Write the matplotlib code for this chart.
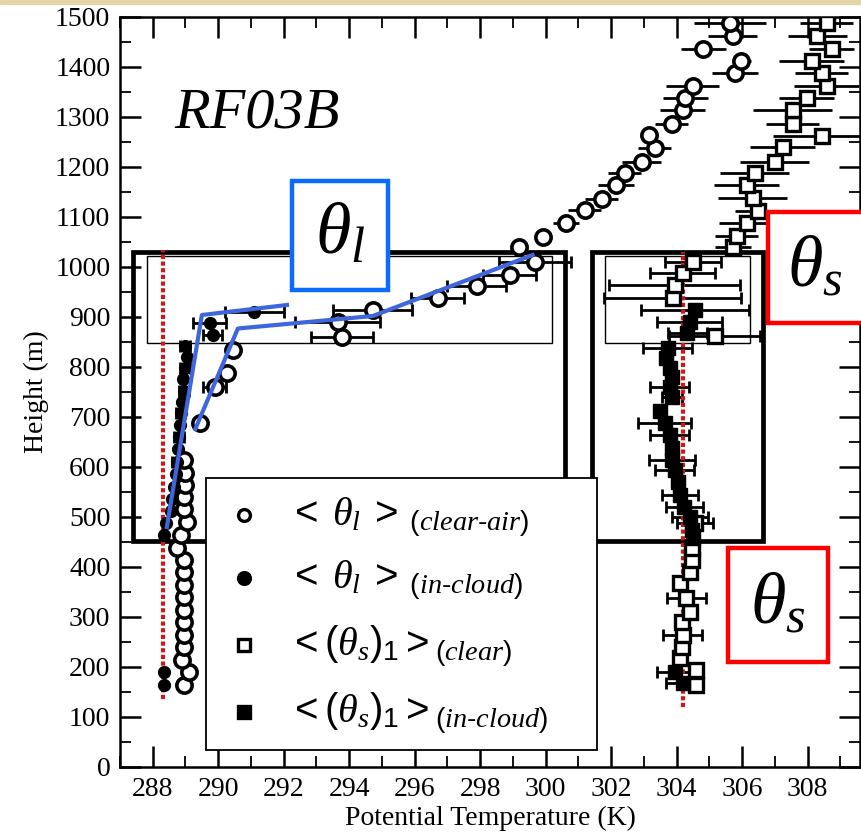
import matplotlib
matplotlib.use("Agg")
import matplotlib.pyplot as plt
from matplotlib.patches import Rectangle
import numpy as np

plt.rcParams['font.family'] = 'Liberation Serif'
plt.rcParams['mathtext.fontset'] = 'custom'
plt.rcParams['mathtext.rm'] = 'Liberation Sans'
plt.rcParams['mathtext.it'] = 'Liberation Serif:italic'
plt.rcParams['mathtext.bf'] = 'Liberation Sans:bold'

# <theta_l> clear-air (open circles)
h_cl = [164, 190, 214, 240, 264, 290, 314, 340, 364, 390, 414, 438, 464, 490, 516,
        540, 564, 588, 614, 688, 760, 788, 834, 860, 890, 914, 938, 962, 984, 1010,
        1040, 1060, 1088, 1114, 1136, 1164, 1188, 1210, 1238, 1264, 1286, 1314, 1338,
        1362, 1388, 1412, 1436, 1462, 1488]
t_cl = [288.95, 289.1, 288.9, 288.95, 288.95, 288.95, 288.95, 288.95, 288.95, 288.95,
        288.95, 288.75, 288.85, 289.05, 288.95, 288.95, 288.98, 288.98, 288.95, 289.44,
        289.89, 290.26, 290.44, 293.77, 293.65, 294.72, 296.7, 297.9, 298.9, 299.66,
        299.2, 299.91, 300.61, 301.19, 301.71, 302.14, 302.41, 302.93, 303.33, 303.15,
        303.85, 304.18, 304.27, 304.49, 305.77, 305.98, 304.82, 305.71, 305.62]
e_cl = [0, 0, 0, 0, 0, 0, 0, 0, 0, 0, 0, 0, 0, 0, 0, 0, 0, 0, 0, 0,
        0.35, 0, 0, 0.95, 1.3, 1.2, 0.8, 0.9, 0.8, 1.1,
        0, 0, 0.4, 0.5, 0.5, 0.55, 0.5, 0.6, 0.5, 0,
        0.5, 0.7, 0.7, 0.8, 0.7, 0.3, 0.7, 0.75, 1.1]

# <theta_l> in-cloud (filled circles)
h_ic = [164, 190, 464, 488, 512, 536, 560, 586, 610, 636, 660, 684, 708, 730, 752,
        776, 798, 820, 842, 864, 888, 910]
t_ic = [288.35, 288.35, 288.35, 288.4, 288.55, 288.6, 288.65, 288.7, 288.75, 288.78,
        288.8, 288.82, 288.85, 288.9, 288.95, 288.92, 288.98, 289.04, 288.98, 289.83,
        289.74, 291.1]
e_ic = [0, 0, 0, 0, 0, 0, 0, 0, 0.15, 0, 0.15, 0, 0.15, 0, 0.15,
        0, 0.15, 0, 0.15, 0.3, 0.5, 0.9]

# <(theta_s)_1> clear (open squares)
h_sc = [164, 194, 218, 240, 264, 290, 310, 338, 368, 390, 414, 438, 488, 862, 938,
        964, 988, 1010, 1040, 1062, 1088, 1112, 1138, 1164, 1188, 1210, 1240, 1262,
        1286, 1314, 1338, 1362, 1388, 1412, 1436, 1462, 1488]
t_sc = [304.6, 304.6, 304.1, 304.15, 304.18, 304.15, 304.4, 304.3, 304.1, 304.4,
        304.46, 304.46, 304.55, 305.16, 303.88, 303.94, 304.18, 304.49, 305.71, 305.83,
        306.14, 306.47, 306.32, 306.14, 306.38, 306.99, 307.24, 308.43, 307.54, 307.54,
        307.97, 308.58, 308.43, 308.12, 308.73, 308.3, 308.58]
e_sc = [0, 0, 0, 0, 0.6, 0, 0, 0.6, 0, 0, 0, 0, 0.55, 1.4, 2.1,
        2.0, 1.0, 0.85, 0.55, 0.65, 0.85, 0.7, 1.05, 1.0, 1.05, 1.05, 1.0, 1.5,
        0.8, 1.2, 0.85, 1.0, 0.8, 1.0, 0.7, 0.9, 0.8]

# <(theta_s)_1> in-cloud (filled squares)
h_sic = [168, 190, 458, 474, 500, 520, 544, 570, 594, 614, 638, 664, 688, 712, 740,
         760, 780, 798, 818, 838, 868, 890, 914]
t_sic = [304.18, 303.94, 304.49, 304.46, 304.4, 304.24, 304.1, 304.03, 303.94, 303.85,
         303.85, 303.79, 303.63, 303.48, 303.85, 303.79, 303.85, 303.79, 303.69, 303.73,
         304.33, 304.4, 304.55]
e_sic = [0.5, 0.55, 0, 0, 0.55, 0.55, 0.55, 0, 0.6, 0.7, 0, 0.6, 0.8, 0, 0.3,
         0.6, 0, 0, 0, 0.75, 0.6, 1.0, 1.65]

# blue fitted profiles
fit_ic_t = [288.43, 289.5, 292.1]
fit_ic_h = [480, 904, 924]
fit_cl_t = [289.3, 290.6, 294.72, 299.6]
fit_cl_h = [676, 877, 902, 1024]

# red dotted reference lines
ref_t = [288.3, 304.18]
ref_h = [(136, 1035), (120, 1030)]

legend_labels = [r'$<\;\theta_l\;>_{\;(clear\text{-}air)}$',
                 r'$<\;\theta_l\;>_{\;(in\text{-}cloud)}$',
                 r'$<(\theta_s)_1>_{(clear)}$',
                 r'$<(\theta_s)_1>_{(in\text{-}cloud)}$']

fig = plt.figure(figsize=(8.61, 8.35), dpi=100)
ax = fig.add_axes([120 / 861, 68 / 835, 740 / 861, 750 / 835])

fig.patches.append(Rectangle((0, 1 - 4 / 835), 1, 4 / 835, transform=fig.transFigure,
                             color='#e4d5a6', zorder=0))

# large analysis boxes
ax.add_patch(Rectangle((287.39, 452), 300.58 - 287.39, 1030 - 452, fill=False,
                       lw=3.4, ec='black', zorder=2))
ax.add_patch(Rectangle((287.83, 848), 300.2 - 287.83, 1022 - 848, fill=False,
                       lw=1, ec='black', zorder=2))
ax.add_patch(Rectangle((301.4, 452), 306.63 - 301.4, 1030 - 452, fill=False,
                       lw=3.4, ec='black', zorder=2))
ax.add_patch(Rectangle((301.8, 848), 306.23 - 301.8, 1022 - 848, fill=False,
                       lw=1, ec='black', zorder=2))

for x, (y0, y1) in zip(ref_t, ref_h):
    ax.plot([x, x], [y0, y1], color='#d01818', lw=3, ls=(0, (1.0, 0.6)), zorder=4)

eb = dict(fmt='none', ecolor='black', elinewidth=2, zorder=3)
h_cl, t_cl, e_cl = map(np.array, (h_cl, t_cl, e_cl))
h_sc, t_sc, e_sc = map(np.array, (h_sc, t_sc, e_sc))
low = h_cl < 1030
ax.errorbar(t_cl[low], h_cl[low], xerr=e_cl[low], capsize=4, capthick=2, **eb)
ax.errorbar(t_cl[~low], h_cl[~low], xerr=e_cl[~low], capsize=0, **eb)
low = h_sc < 1030
ax.errorbar(t_sc[low], h_sc[low], xerr=e_sc[low], capsize=4, capthick=2, **eb)
ax.errorbar(t_sc[~low], h_sc[~low], xerr=e_sc[~low], capsize=0, **eb)
ax.errorbar(t_ic, h_ic, xerr=e_ic, capsize=4, capthick=2, **eb)
ax.errorbar(t_sic, h_sic, xerr=e_sic, capsize=4, capthick=2, **eb)

ax.plot(t_cl, h_cl, 'o', ms=11, mfc='white', mec='black', mew=2.6, zorder=4)
ax.plot(t_ic, h_ic, 'o', ms=8.5, mfc='black', mec='black', zorder=4)
ax.plot(t_sc, h_sc, 's', ms=9.5, mfc='white', mec='black', mew=2.4, zorder=4)
ax.plot(t_sic, h_sic, 's', ms=9.5, mfc='black', mec='black', zorder=4)

ax.plot(fit_ic_t, fit_ic_h, color='#3f66dc', lw=3, zorder=5)
ax.plot(fit_cl_t, fit_cl_h, color='#3f66dc', lw=3, zorder=5)

# annotation boxes
ax.add_patch(Rectangle((292.24, 954), 295.18 - 292.24, 1172 - 954, fc='white',
                       ec='#0a6cff', lw=3.2, zorder=6))
ax.text(293.71, 1062, r'$\theta_l$', fontsize=52, ha='center', va='center', zorder=7)
ax.add_patch(Rectangle((306.78, 888), 4.0, 1110 - 888, fc='white', ec='#ff0000',
                       lw=3.2, zorder=6, clip_on=False))
ax.text(308.21, 996, r'$\theta_s$', fontsize=52, ha='center', va='center', zorder=7,
        clip_on=False)
ax.add_patch(Rectangle((305.56, 210), 308.61 - 305.56, 438 - 210, fc='white',
                       ec='#ff0000', lw=3.2, zorder=6))
ax.text(307.08, 322, r'$\theta_s$', fontsize=52, ha='center', va='center', zorder=7)

ax.text(288.67, 1278, 'RF03B', fontsize=42, style='italic', va='baseline')

# legend box
ax.add_patch(Rectangle((289.62, 34), 301.56 - 289.62, 578 - 34, fc='white',
                       ec='black', lw=1.3, zorder=8))
rows = [504, 378, 244, 110]
styles = [('o', 'white'), ('o', 'black'), ('s', 'white'), ('s', 'black')]
for y, (m, fc), lab in zip(rows, styles, legend_labels):
    ax.plot(290.78, y, m, ms=8.5 if m == 'o' else 8, mfc=fc, mec='black', mew=2.4,
            zorder=9)
    ax.text(292.15, y - 22, lab, fontsize=29, va='baseline', zorder=9)

ax.set_xlim(287.0, 309.6)
ax.set_ylim(0, 1500)
ax.set_xticks(np.arange(288, 309, 2))
ax.set_xticks(np.arange(287, 310, 1), minor=True)
ax.set_yticks(np.arange(0, 1501, 100))
ax.set_yticks(np.arange(0, 1501, 50), minor=True)
ax.tick_params(which='both', direction='in', top=True, right=True, labelsize=20)
ax.tick_params(which='major', length=15, width=1.8, pad=7)
ax.tick_params(which='minor', length=8, width=1.3)
for s in ax.spines.values():
    s.set_linewidth(1.8)
ax.set_xlabel('Potential Temperature (K)', fontsize=20, labelpad=3)
ax.set_ylabel('Height (m)', fontsize=20, labelpad=4)

fig.savefig('out.png', dpi=100)
